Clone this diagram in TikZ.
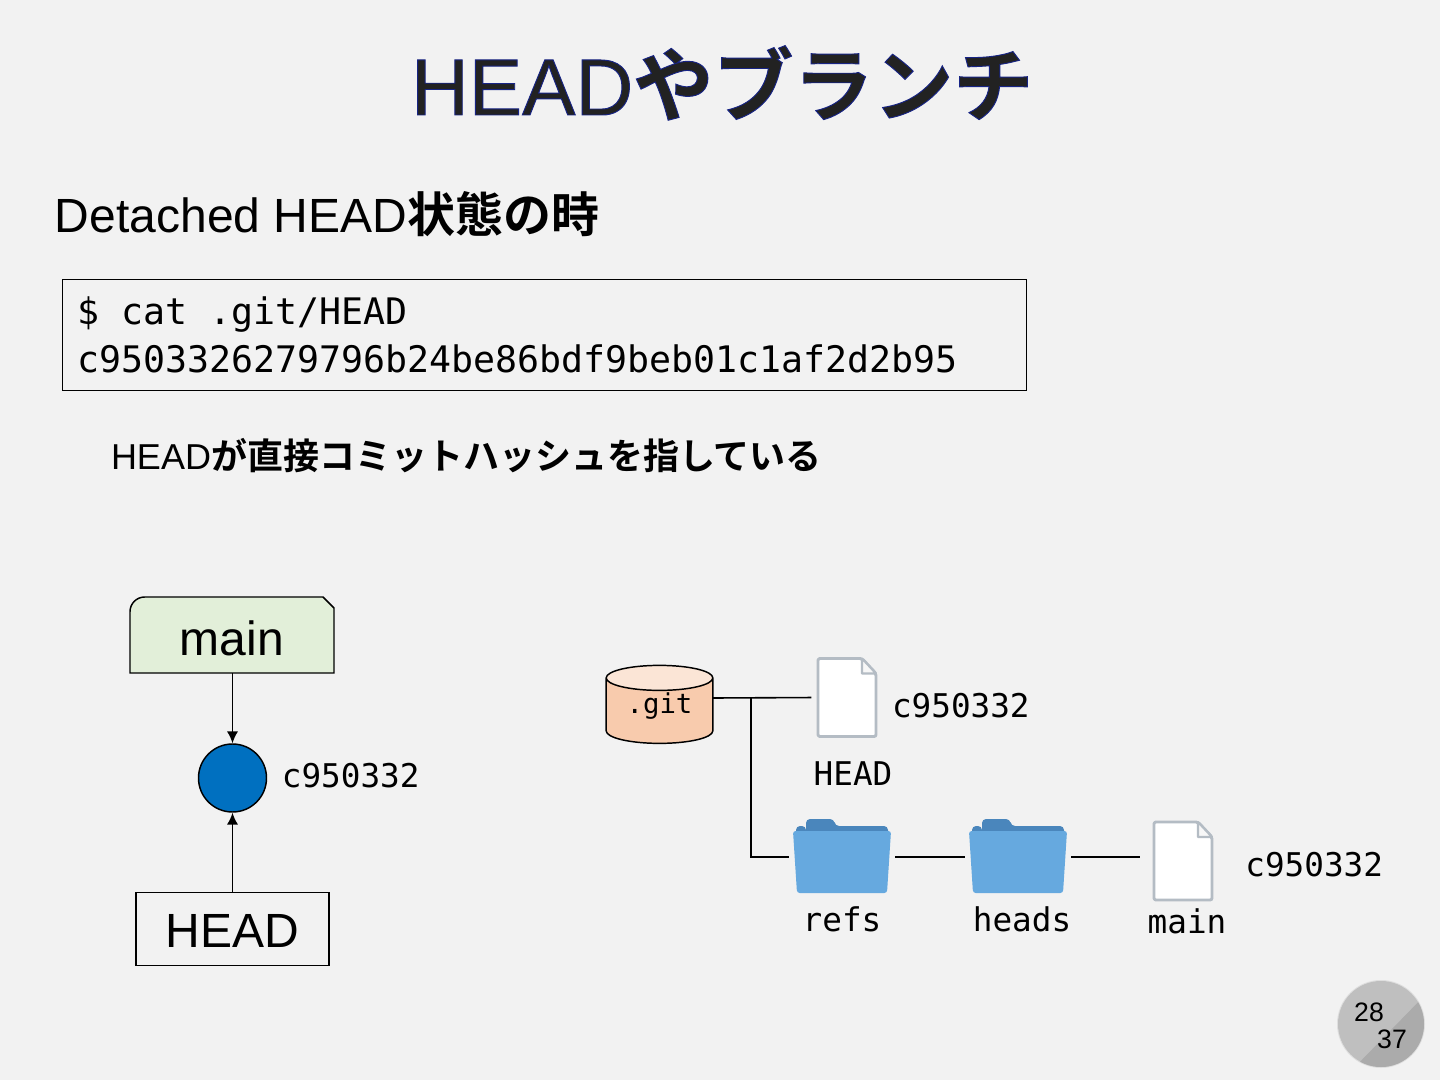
\documentclass[tikz,border=0pt]{standalone}
\usepackage{fontspec}
\usepackage{xcolor}
\usetikzlibrary{shapes.geometric, arrows.meta, positioning}
\setmainfont{Liberation Sans}
\setmonofont{DejaVu Sans Mono}
\newfontfamily\cjk{Noto Sans CJK JP}[BoldFont=* Bold]
\definecolor{slidebg}{HTML}{F2F2F2}
\definecolor{titlefill}{HTML}{222222}
\definecolor{tagfill}{HTML}{E2EFD9}
\definecolor{commitfill}{HTML}{0070C0}
\definecolor{gitfill}{HTML}{F8CBAD}
\definecolor{gittop}{HTML}{FBE5D6}
\definecolor{filerim}{HTML}{B4BCC4}
\definecolor{folderfront}{HTML}{66A9DF}
\definecolor{folderback}{HTML}{4A86BC}
\newcommand{\outlined}[1]{\special{pdf:code 2 Tr 0.7 w 0.09 0.14 0.52 RG}#1\special{pdf:code 0 Tr 0.4 w 0 0 0 RG}}

\begin{document}
\begin{tikzpicture}[
    x=0.75pt, y=-0.75pt,
    plain/.style={inner sep=0pt, outer sep=0pt},
    hash/.style={plain, font=\ttfamily\fontsize{24.5}{28}\selectfont},
    boxtext/.style={plain, font=\fontsize{36}{40}\selectfont},
    arrow/.style={-{Latex[length=9pt, width=8.5pt]}, line width=1.2pt},
    link/.style={line width=1.2pt},
    pics/docfile/.style={code={
        \node [plain, minimum width=43.5pt, minimum height=58.5pt] (-box) {};
        \draw [filerim, line width=2.2pt, fill=white, line join=round, rounded corners=1.5pt]
            (-29,-39) -- (15,-39) -- (29,-24) -- (29,39) -- (-29,39) -- cycle;
        \draw [filerim, line width=1.6pt, fill=slidebg!60!white, line join=round] (15,-39) -- (15,-24) -- (29,-24) -- cycle;
    }},
    pics/folder/.style={code={
        \node [plain, minimum width=73.5pt, minimum height=55pt] (-box) {};
        \fill [folderback, rounded corners=3pt] (-36,-26) -- (-36,-38) -- (-8,-38) -- (-7,-31) -- (46,-31) -- (46,-20) -- (-46,-20) -- (-46,-31) -- (-36,-31) -- cycle;
        \fill [folderfront, rounded corners=2pt] (-49,-26) -- (49,-26) -- (45,36) -- (-45,36) -- cycle;
    }}
]
    % slide background and page badge
    \fill [slidebg] (0,0) rectangle (1440,1080);
    \useasboundingbox (0,0) rectangle (1440,1080);
    \fill [gray!25] (1381,1024) circle (44);
    \begin{scope}
        \clip (1381,1024) circle (43);
        \fill [black!25] (1330,970) rectangle (1430,1070);
        \fill [black!33] (1352,1070) -- (1430,990) -- (1430,1070) -- cycle;
    \end{scope}
    \node [plain, font=\fontsize{20}{24}\selectfont] (slidenum) at (1369,1012) {28};
    \node [plain, font=\fontsize{20}{24}\selectfont] (slidetotal) at (1392,1039) {37};

    % headings
    \node [plain, anchor=base west, text=titlefill] (title) at (411,115)
        {\fontsize{60}{66}\selectfont\outlined{HEAD{\cjk\bfseries やブランチ}}};
    \node [plain, anchor=base west] (subtitle) at (55,233)
        {\fontsize{36}{40}\selectfont Detached HEAD{\cjk\bfseries 状態の時}};
    \node [draw, line width=1.1pt, inner sep=0pt, minimum width=723pt, minimum height=83pt, anchor=north west] (codebox) at (62,279) {};
    \node [plain, anchor=base west, font=\ttfamily\fontsize{27.42}{30}\selectfont] (cmdline) at (77,325) {\$ cat .git/HEAD};
    \node [plain, anchor=base west, font=\ttfamily\fontsize{27.42}{30}\selectfont] (hashline) at (77,373) {c9503326279796b24be86bdf9beb01c1af2d2b95};
    \node [plain, anchor=base west] (note) at (111,470)
        {\fontsize{27}{30}\selectfont HEAD{\cjk\bfseries が直接コミットハッシュを指している}};

    % branch, commit and HEAD
    \filldraw [fill=tagfill, line width=1.1pt]
        (130,673) [rounded corners=11pt] -- (130,597) [sharp corners] -- (323,597) -- (334,608) -- (334,673) -- cycle;
    \node [boxtext, minimum width=153pt, minimum height=57pt] (main) at (232,638) {main};
    \node [circle, draw, fill=commitfill, line width=1.1pt, minimum size=51pt, inner sep=0pt] (commit) at (232.5,778) {};
    \node [draw, boxtext, line width=1.1pt, minimum width=144.5pt, minimum height=54.5pt] (head) at (232.5,929) {\raisebox{-1.5pt}[\height][\depth]{HEAD}};
    \coordinate (mainout) at (232.5,673);
    \node [hash, right=11pt of commit, yshift=1.5pt] (commithash) {c950332};
    \draw [arrow] (mainout) -- (commit);
    \draw [arrow] (head) -- (commit);

    % .git tree
    \node [cylinder, shape border rotate=90, aspect=0.38, draw, line width=1.1pt, inner sep=0pt,
        cylinder uses custom fill, cylinder body fill=gitfill, cylinder end fill=gittop,
        minimum width=80pt, minimum height=58.5pt,
        font=\ttfamily\fontsize{20.5}{24}\selectfont] (git) at (659.5,711) {\raisebox{3.5pt}[\height][\depth]{.git}};
    \pic (headfile) at (847,697.5) {docfile};
    \pic (refs) at (842,857) {folder};
    \pic (heads) at (1018,857) {folder};
    \pic (mainfile) at (1183,861) {docfile};
    \node [hash] (headlabel) at (853,774) {HEAD};
    \node [hash, right=12pt of headfile-box, yshift=-6pt] (headhash) {c950332};
    \node [hash] (refslabel) at (842,919) {refs};
    \node [hash] (headslabel) at (1022,919) {heads};
    \node [hash] (mainlabel) at (1187,921) {main};
    \node [hash, right=25pt of mainfile-box, yshift=-2.5pt] (mainhash) {c950332};
    \coordinate (gitout) at (713,698);
    \coordinate (fork) at (751,698);
    \draw [link, shorten >=5pt] (gitout) -- (headfile-box.west);
    \draw [link, shorten >=3pt] (fork) |- (refs-box.west);
    \draw [link, shorten <=3pt, shorten >=3pt] (refs-box.east) -- (heads-box.west);
    \draw [link, shorten <=3pt, shorten >=10.5pt] (heads-box.east) -- (mainfile-box.west |- heads-box.east);
\end{tikzpicture}
\end{document}
